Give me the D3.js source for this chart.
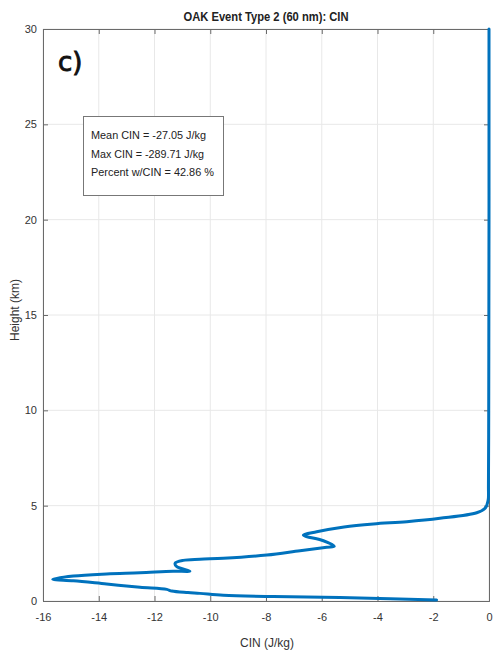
<!DOCTYPE html>
<html><head><meta charset="utf-8">
<script src="https://cdn.jsdelivr.net/npm/d3@7"></script>
<style>body{margin:0;background:#fff}svg{display:block}text{font-family:"Liberation Sans",Arial,sans-serif}</style>
</head><body><svg id="c" width="494" height="659"></svg>
<script>
const titleText = "OAK Event Type 2 (60 nm): CIN";
const xLabel = "CIN (J/kg)";
const yLabel = "Height (km)";
const panelLabel = "c)";
const statLines = ["Mean CIN = -27.05 J/kg", "Max CIN = -289.71 J/kg", "Percent w/CIN = 42.86 %"];
const xTicks = [-16, -14, -12, -10, -8, -6, -4, -2, 0];
const yTicks = [0, 5, 10, 15, 20, 25, 30];
const heights = [0.05,0.12,0.19,0.23,0.30,0.40,0.44,0.52,0.61,0.72,0.89,1.06,1.14,1.31,1.42,1.48,1.56,1.57,1.80,1.98,2.13,2.19,2.24,2.41,2.64,2.82,2.87,3.16,3.46,3.63,3.88,4.04,4.16,4.34,4.63,4.86,5.30,6,10,15,20,25,30];
const cin = [-1.88,-3.55,-5.35,-7.74,-9.53,-10.37,-10.80,-11.38,-11.56,-12.52,-13.72,-14.91,-15.65,-14.91,-13.72,-12.52,-11.33,-10.73,-11.20,-11.26,-10.97,-10.37,-9.53,-7.97,-6.78,-5.82,-5.55,-5.94,-6.66,-6.18,-5.2,-4.15,-2.95,-1.76,-0.44,-0.14,-0.03,-0.02,-0.01,-0.005,0,0,0];

const L=43,R=489,T=29,B=601;
const svg=d3.select("#c");
const x=d3.scaleLinear().domain([-16,0]).range([L,R]);
const y=d3.scaleLinear().domain([0,30]).range([B,T]);

// grid
const g=svg.append("g");
g.selectAll(".gx").data(xTicks).join("line").attr("x1",d=>x(d)).attr("x2",d=>x(d)).attr("y1",T).attr("y2",B).attr("stroke","#e8e8e8").attr("stroke-width",1);
g.selectAll(".gy").data(yTicks).join("line").attr("x1",L).attr("x2",R).attr("y1",d=>y(d)).attr("y2",d=>y(d)).attr("stroke","#e8e8e8").attr("stroke-width",1);

// axes
const ax=svg.append("g").attr("transform",`translate(0,${B})`).call(d3.axisBottom(x).tickValues(xTicks).tickSize(-5).tickPadding(12).tickFormat(d3.format("d")));
const ay=svg.append("g").attr("transform",`translate(${L},0)`).call(d3.axisLeft(y).tickValues(yTicks).tickSize(-5).tickPadding(6));
const axT=svg.append("g").attr("transform",`translate(0,${T})`).call(d3.axisTop(x).tickValues(xTicks).tickSize(-5).tickFormat(""));
const ayR=svg.append("g").attr("transform",`translate(${R},0)`).call(d3.axisRight(y).tickValues(yTicks).tickSize(-5).tickFormat(""));
[ax,ay,axT,ayR].forEach(a=>{a.selectAll("path,line").attr("stroke","#6a6a6a");a.selectAll("text").attr("fill","#333").style("font-size","11px").style("font-family","'Liberation Sans Narrow','Liberation Sans',Arial,sans-serif");});
ax.selectAll("text").text(d=>d===0?"0":String(d).replace("\u2212","-"));

// line
const line=d3.line().x((d,i)=>x(cin[i])).y((d,i)=>y(heights[i])).curve(d3.curveCatmullRom.alpha(0.5));
svg.append("path").datum(heights).attr("d",line).attr("fill","none").attr("stroke","#0072BD").attr("stroke-width",3).attr("stroke-linejoin","round").attr("stroke-linecap","round");

// title
svg.append("text").attr("x",266).attr("y",21).attr("text-anchor","middle").attr("font-weight","bold").style("font-size","12px").attr("fill","#222").attr("textLength",165).attr("lengthAdjust","spacingAndGlyphs").text(titleText);
// axis labels
svg.append("text").attr("x",267).attr("y",647).attr("text-anchor","middle").style("font-size","12px").attr("fill","#333").text(xLabel);
svg.append("text").attr("transform","translate(19,310) rotate(-90)").attr("text-anchor","middle").style("font-size","12px").attr("fill","#333").text(yLabel);
// panel label
svg.append("text").attr("x",58).attr("y",71).style("font-size","26px").attr("fill","#111").attr("stroke","#111").attr("stroke-width",0.9).style("font-family","'DejaVu Sans',sans-serif").text(panelLabel);
// stats box
svg.append("rect").attr("x",83.5).attr("y",116.5).attr("width",140).attr("height",79).attr("fill","#fff").attr("stroke","#777").attr("stroke-width",1);
svg.selectAll(".st").data(statLines).join("text").attr("x",91).attr("y",(d,i)=>139+i*18.5).style("font-size","11px").attr("fill","#222").style("font-family","'Liberation Sans Narrow','Liberation Sans',Arial,sans-serif").attr("textLength",(d,i)=>[115,113,123][i]).attr("lengthAdjust","spacingAndGlyphs").text(d=>d);
</script></body></html>
